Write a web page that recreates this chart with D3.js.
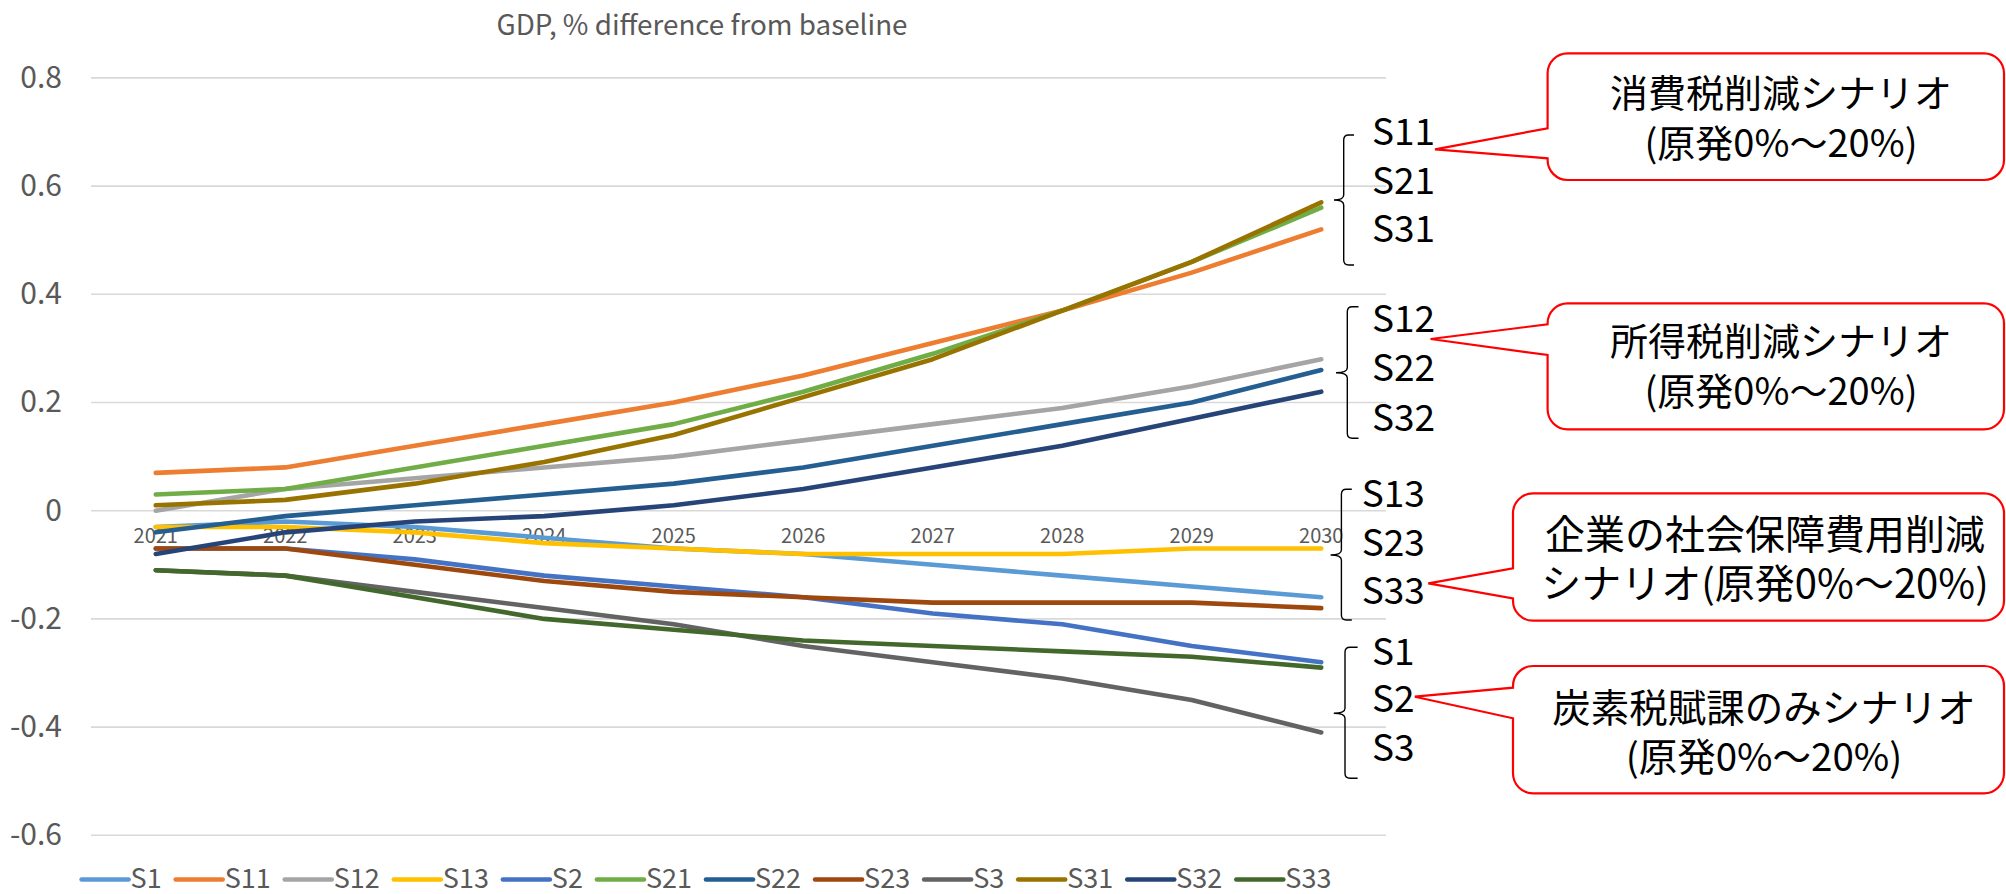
<!DOCTYPE html>
<html>
<head>
<meta charset="utf-8">
<script src="https://cdn.jsdelivr.net/npm/d3@7/dist/d3.min.js"></script>
<style>
  html, body { margin: 0; padding: 0; background: #ffffff; }
  svg { display: block; }
  text { font-family: "Noto Sans CJK JP", "Noto Sans", sans-serif; }
</style>
</head>
<body>
<svg id="chart" width="2006" height="894"></svg>
<script>
// ---------------- data ----------------
const years = ["2021","2022","2023","2024","2025","2026","2027","2028","2029","2030"];
const seriesNames = ["S1","S11","S12","S13","S2","S21","S22","S23","S3","S31","S32","S33"];
const S1  = [-0.03, -0.02, -0.03, -0.05, -0.07, -0.08, -0.10, -0.12, -0.14, -0.16];
const S11 = [ 0.07,  0.08,  0.12,  0.16,  0.20,  0.25,  0.31,  0.37,  0.44,  0.52];
const S12 = [ 0.00,  0.04,  0.06,  0.08,  0.10,  0.13,  0.16,  0.19,  0.23,  0.28];
const S13 = [-0.03, -0.03, -0.04, -0.06, -0.07, -0.08, -0.08, -0.08, -0.07, -0.07];
const S2  = [-0.07, -0.07, -0.09, -0.12, -0.14, -0.16, -0.19, -0.21, -0.25, -0.28];
const S21 = [ 0.03,  0.04,  0.08,  0.12,  0.16,  0.22,  0.29,  0.37,  0.46,  0.56];
const S22 = [-0.04, -0.01,  0.01,  0.03,  0.05,  0.08,  0.12,  0.16,  0.20,  0.26];
const S23 = [-0.07, -0.07, -0.10, -0.13, -0.15, -0.16, -0.17, -0.17, -0.17, -0.18];
const S3  = [-0.11, -0.12, -0.15, -0.18, -0.21, -0.25, -0.28, -0.31, -0.35, -0.41];
const S31 = [ 0.01,  0.02,  0.05,  0.09,  0.14,  0.21,  0.28,  0.37,  0.46,  0.57];
const S32 = [-0.08, -0.04, -0.02, -0.01,  0.01,  0.04,  0.08,  0.12,  0.17,  0.22];
const S33 = [-0.11, -0.12, -0.16, -0.20, -0.22, -0.24, -0.25, -0.26, -0.27, -0.29];
const seriesValues = [S1, S11, S12, S13, S2, S21, S22, S23, S3, S31, S32, S33];
const seriesColors = ["#5B9BD5","#ED7D31","#A5A5A5","#FFC000","#4472C4","#70AD47",
                      "#255E91","#9E480E","#636363","#997300","#264478","#43682B"];
const yTicks = [0.8, 0.6, 0.4, 0.2, 0, -0.2, -0.4, -0.6];
const yTickLabels = ["0.8","0.6","0.4","0.2","0","-0.2","-0.4","-0.6"];
const chartTitle = "GDP, % difference from baseline";

// annotation groups (bracket labels + callout text)
const groupLabels = [["S11","S21","S31"],["S12","S22","S32"],["S13","S23","S33"],["S1","S2","S3"]];
const calloutLines = [
  ["消費税削減シナリオ","(原発0%～20%)"],
  ["所得税削減シナリオ","(原発0%～20%)"],
  ["企業の社会保障費用削減","シナリオ(原発0%～20%)"],
  ["炭素税賦課のみシナリオ","(原発0%～20%)"]
];

// ---------------- layout ----------------
const plotLeft = 91, plotRight = 1386;
const yTop = 77.9, yBottom = 835.3;
const gray = "#595959";

const svg = d3.select("#chart");

const x = d3.scaleBand().domain(years).range([plotLeft, plotRight]).padding(0);
const y = d3.scaleLinear().domain([-0.6, 0.8]).range([yBottom, yTop]);
const xc = d => x(d) + x.bandwidth() / 2;

// title
svg.append("text")
  .attr("x", 702).attr("y", 26 + 0.33 * 28)
  .attr("text-anchor", "middle")
  .attr("font-size", 27.8).attr("fill", gray)
  .text(chartTitle);

// gridlines
svg.append("g").selectAll("line").data(yTicks).join("line")
  .attr("x1", plotLeft).attr("x2", plotRight)
  .attr("y1", d => y(d)).attr("y2", d => y(d))
  .attr("stroke", "#D9D9D9").attr("stroke-width", 1.6);

// y axis labels
svg.append("g").selectAll("text").data(yTicks).join("text")
  .attr("x", 62).attr("y", d => y(d) + 0.33 * 30)
  .attr("text-anchor", "end")
  .attr("font-size", 30).attr("fill", gray)
  .text((d, i) => yTickLabels[i]);

// x axis labels (category axis crosses at 0)
svg.append("g").selectAll("text").data(years).join("text")
  .attr("x", d => xc(d)).attr("y", y(0) + 26 + 0.33 * 20)
  .attr("text-anchor", "middle")
  .attr("font-size", 20).attr("fill", gray)
  .text(d => d);

// lines
const line = d3.line().x((d, i) => xc(years[i])).y(d => y(d));
svg.append("g").selectAll("path").data(seriesValues).join("path")
  .attr("d", d => line(d))
  .attr("fill", "none")
  .attr("stroke", (d, i) => seriesColors[i])
  .attr("stroke-width", 4.6)
  .attr("stroke-linejoin", "round")
  .attr("stroke-linecap", "round");

// legend
const legendY = 879.5, legFont = 27, legLine = 47;
const leg = svg.append("g");
const items = leg.selectAll("g").data(seriesNames).join("g");
items.append("line")
  .attr("x1", 0).attr("x2", legLine).attr("y1", legendY).attr("y2", legendY)
  .attr("stroke", (d, i) => seriesColors[i]).attr("stroke-width", 4.6)
  .attr("stroke-linecap", "round");
items.append("text")
  .attr("x", legLine + 2).attr("y", legendY + 0.33 * legFont)
  .attr("font-size", legFont).attr("fill", gray)
  .text(d => d);
let widths = [];
items.each(function() { widths.push(this.querySelector("text").getComputedTextLength()); });
const gap = 14;
let total = 0; widths.forEach(w => total += legLine + 2 + w + gap); total -= gap;
let cx = 706.5 - total / 2;
items.each(function(d, i) {
  d3.select(this).attr("transform", `translate(${cx},0)`);
  cx += legLine + 2 + widths[i] + gap;
});

// ---------------- annotations ----------------
const brackets = [
  {top: 135,   bottom: 265,   tip: 200,   xv: 1343.7, tipX: 1334,   serif: 1354,   lx: 1372,   ly: [133, 181.7, 230]},
  {top: 306.7, bottom: 438.3, tip: 372.7, xv: 1347.3, tipX: 1336,   serif: 1358.5, lx: 1372,   ly: [320, 368.3, 418.3]},
  {top: 489.3, bottom: 620,   tip: 555,   xv: 1341.4, tipX: 1330.6, serif: 1351.8, lx: 1361.7, ly: [495, 543.3, 591.7]},
  {top: 647.3, bottom: 778.3, tip: 713.3, xv: 1345,   tipX: 1333.8, serif: 1357.6, lx: 1372,   ly: [652.7, 700, 748.3]}
];
const callouts = [
  {x0: 1547.6, x1: 2004, y0: 53.3,  y1: 180,   b0: 128.3, b1: 158.3, tx: 1435,   ty: 149.3, cx: 1781, ly: [93.3, 143.3], fs: 38},
  {x0: 1547.6, x1: 2004, y0: 303.3, y1: 429.3, b0: 324.3, b1: 355,   tx: 1430.6, ty: 339,   cx: 1781, ly: [341.7, 391.7], fs: 38},
  {x0: 1513,   x1: 2004, y0: 493.3, y1: 620.7, b0: 568.3, b1: 598.3, tx: 1428.3, ty: 583.3, cx: 1765, ly: [535, 583.3], fs: 40},
  {x0: 1513,   x1: 2004, y0: 666,   y1: 793.3, b0: 687.7, b1: 718.3, tx: 1414.8, ty: 696.7, cx: 1764, ly: [708.3, 756.7], fs: 38.5}
];

const ann = svg.append("g");
brackets.forEach((b, gi) => {
  const r = 5;
  const p = d3.path();
  p.moveTo(b.serif, b.top);
  p.lineTo(b.xv + r, b.top);
  p.quadraticCurveTo(b.xv, b.top, b.xv, b.top + r);
  p.lineTo(b.xv, b.tip - r);
  p.quadraticCurveTo(b.xv, b.tip, b.tipX, b.tip);
  p.quadraticCurveTo(b.xv, b.tip, b.xv, b.tip + r);
  p.lineTo(b.xv, b.bottom - r);
  p.quadraticCurveTo(b.xv, b.bottom, b.xv + r, b.bottom);
  p.lineTo(b.serif, b.bottom);
  ann.append("path").attr("d", p.toString())
    .attr("fill", "none").attr("stroke", "#000").attr("stroke-width", 1.4);
  groupLabels[gi].forEach((lab, k) => {
    ann.append("text")
      .attr("x", b.lx).attr("y", b.ly[k] + 0.33 * 37)
      .attr("font-size", 37).attr("fill", "#000")
      .text(lab);
  });
});

callouts.forEach((c, gi) => {
  const r = 20;
  const p = d3.path();
  p.moveTo(c.x0 + r, c.y0);
  p.lineTo(c.x1 - r, c.y0);
  p.arcTo(c.x1, c.y0, c.x1, c.y0 + r, r);
  p.lineTo(c.x1, c.y1 - r);
  p.arcTo(c.x1, c.y1, c.x1 - r, c.y1, r);
  p.lineTo(c.x0 + r, c.y1);
  p.arcTo(c.x0, c.y1, c.x0, c.y1 - r, r);
  p.lineTo(c.x0, c.b1);
  p.lineTo(c.tx, c.ty);
  p.lineTo(c.x0, c.b0);
  p.lineTo(c.x0, c.y0 + r);
  p.arcTo(c.x0, c.y0, c.x0 + r, c.y0, r);
  p.closePath();
  ann.append("path").attr("d", p.toString())
    .attr("fill", "#fff").attr("stroke", "#FF0000").attr("stroke-width", 2.2);
  calloutLines[gi].forEach((t, k) => {
    ann.append("text")
      .attr("x", c.cx).attr("y", c.ly[k] + 0.36 * c.fs)
      .attr("text-anchor", "middle")
      .attr("font-size", c.fs).attr("fill", "#000")
      .text(t);
  });
});
</script>
</body>
</html>
